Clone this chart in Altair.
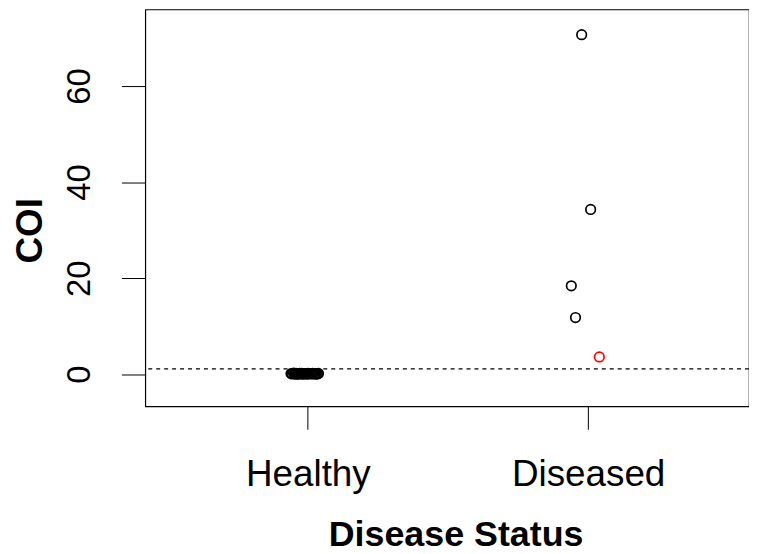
import altair as alt
import pandas as pd

# Healthy group: many COI values near zero (jittered horizontally)
healthy_x = [0.940, 0.944, 0.949, 0.953, 0.958, 0.962, 0.966, 0.971, 0.975, 0.980,
             0.984, 0.988, 0.993, 0.997, 1.001, 1.005, 1.010, 1.014, 1.018, 1.022,
             1.026, 1.030, 1.034, 1.038, 0.956, 0.978, 0.999, 1.016, 0.968, 1.028]
healthy_y = [0.12, 0.05, 0.20, 0.08, 0.15, 0.03, 0.10, 0.18, 0.06, 0.11,
             0.02, 0.14, 0.09, 0.07, 0.16, 0.04, 0.13, 0.10, 0.19, 0.05,
             0.08, 0.12, 0.03, 0.15, 0.06, 0.17, 0.09, 0.11, 0.04, 0.14]

# Diseased group
diseased_x = [1.977, 2.009, 1.940, 1.955, 2.040]
diseased_y = [70.7, 34.3, 18.4, 11.8, 3.6]
diseased_color = ["black", "black", "black", "black", "red"]

cutoff = [1.1]
x_ticks = [1, 2]
x_labels = ["Healthy", "Diseased"]
y_ticks = [0, 20, 40, 60]

df = pd.DataFrame({
    "x": healthy_x + diseased_x,
    "y": healthy_y + diseased_y,
    "c": ["black"] * len(healthy_x) + diseased_color,
})
cut_df = pd.DataFrame({"y": cutoff})

FONT = "Liberation Sans"
xscale = alt.Scale(domain=[0.42, 2.574], nice=False, zero=False)
yscale = alt.Scale(domain=[-6.69, 75.95], nice=False, zero=False)

label_expr = "datum.value == {} ? '{}' : '{}'".format(x_ticks[0], x_labels[0], x_labels[1])

xaxis = alt.Axis(
    values=x_ticks, labelExpr=label_expr, grid=False, domain=False,
    tickSize=23, tickColor="black", tickWidth=1,
    labelFont=FONT, labelFontSize=37, labelColor="black",
    labelBaseline="alphabetic", labelPadding=57, labelAlign="center",
    title="Disease Status", titleFont=FONT, titleFontSize=36,
    titleFontWeight="bold", titleColor="black",
    titleBaseline="alphabetic", titleAlign="center", titleX=312, titleY=140,
)
yaxis = alt.Axis(
    values=y_ticks, grid=False, domain=False,
    tickSize=24, tickColor="black", tickWidth=1,
    labelFont=FONT, labelFontSize=33, labelColor="black",
    labelAngle=270, labelAlign="center", labelBaseline="alphabetic",
    labelPadding=32,
    title="COI", titleFont=FONT, titleFontSize=37, titleFontWeight="bold",
    titleColor="black", titleAngle=270, titleBaseline="alphabetic",
    titleAlign="center", titleX=-104, titleY=222,
)

points = alt.Chart(df).mark_point(
    shape="circle", filled=False, size=92, strokeWidth=1.7, opacity=1
).encode(
    x=alt.X("x:Q", scale=xscale, axis=xaxis),
    y=alt.Y("y:Q", scale=yscale, axis=yaxis),
    color=alt.Color("c:N", scale=None),
)

rule = alt.Chart(cut_df).mark_rule(
    color="black", strokeDash=[4, 4], strokeWidth=1.1
).encode(y=alt.Y("y:Q", scale=yscale, axis=yaxis))

chart = alt.layer(points, rule).properties(
    width=607, height=399,
    autosize=alt.AutoSizeParams(type="none"),
    padding={"left": 138, "top": 0, "right": 0, "bottom": 146},
).configure_view(stroke="black", strokeWidth=1.2)

chart.save("out.html", embed_options={"renderer": "svg", "actions": False})
